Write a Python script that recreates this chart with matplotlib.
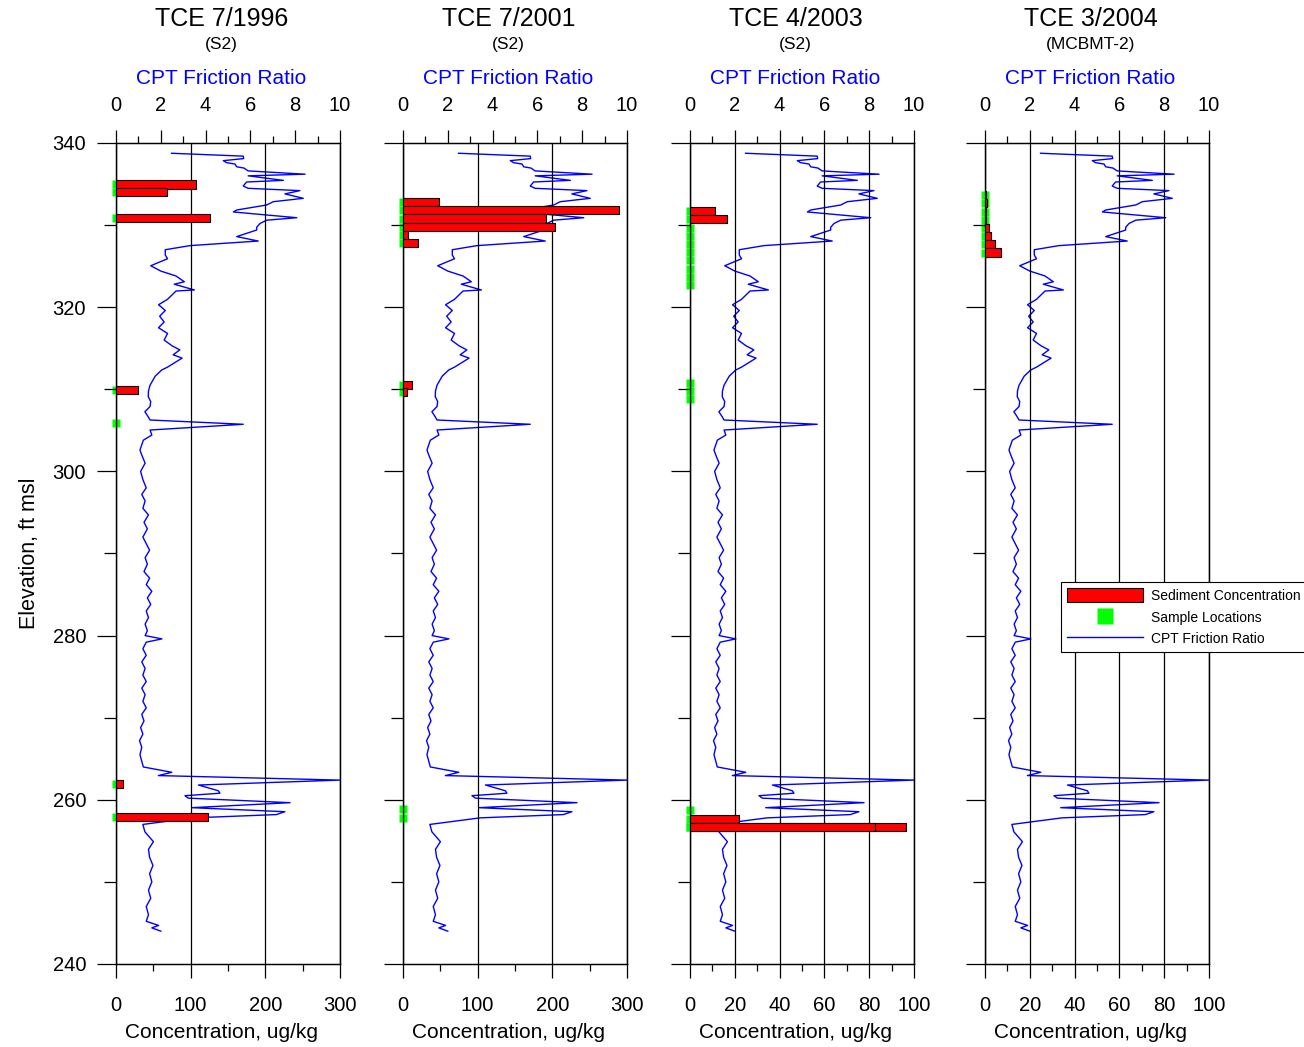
import matplotlib
matplotlib.use('Agg')
import matplotlib.pyplot as plt
from matplotlib.patches import Patch
from matplotlib.lines import Line2D
from matplotlib.ticker import MultipleLocator

plt.rcParams['font.family'] = ['Liberation Sans', 'DejaVu Sans']

# CPT friction ratio profile (same sounding shown in every panel)
cpt_elev = [338.75, 338.4, 338.1, 337.85, 337.6, 337.44, 337.1, 336.95, 336.6, 336.2,
            336.0, 335.45, 335.25, 334.76, 334.48, 334.2, 333.8, 333.26, 332.85, 332.45,
            331.84, 331.6, 330.9, 330.6, 330.2, 329.73, 329.4, 328.6, 328.06, 327.5,
            327.0, 326.36, 325.9, 325.05, 324.4, 323.8, 323.1, 322.8, 322.1, 321.97,
            320.96, 320.3, 319.6, 318.9, 318.2, 317.5, 316.8, 316.0, 315.3, 314.8,
            314.2, 313.8, 313.2, 312.7, 312.35, 311.6, 310.5, 309.8, 309.1, 308.5,
            307.9, 307.27, 306.6, 306.26, 305.74, 305.04, 304.43, 303.8, 302.6, 302.0,
            301.0, 300.0, 299.0, 298.0, 297.2, 296.4, 295.5, 294.7, 293.8, 293.0,
            292.0, 291.2, 290.4, 289.5, 288.7, 287.8, 287.0, 286.2, 285.4, 284.6,
            283.8, 283.0, 282.2, 281.4, 280.6, 280.0, 279.6, 279.2, 278.4, 277.6,
            276.8, 276.0, 275.2, 274.4, 273.6, 272.8, 272.0, 271.2, 270.4, 269.6,
            268.8, 268.0, 267.2, 266.4, 265.5, 264.0, 263.35, 262.95, 262.4, 261.8,
            261.1, 260.8, 260.5, 260.2, 259.65, 259.04, 258.55, 258.2, 257.8, 257.0,
            256.1, 254.9, 253.97, 253.0, 252.0, 251.0, 250.0, 249.0, 248.0, 247.0,
            246.0, 245.2, 244.7, 244.4, 244.0]
cpt_ratio = [2.48, 5.68, 5.7, 4.79, 4.94, 5.31, 5.39, 5.71, 5.9, 8.44,
             5.9, 7.47, 5.83, 5.68, 5.9, 8.21, 7.54, 8.36, 7.02, 6.73,
             5.39, 5.24, 8.07, 6.73, 6.43, 6.28, 6.28, 5.39, 6.35, 3.3,
             2.2, 2.2, 2.3, 1.55, 2.0, 2.68, 3.05, 2.6, 3.5, 2.68,
             2.3, 1.9, 2.2, 1.95, 2.15, 1.9, 2.3, 2.15, 2.5, 2.85,
             2.55, 2.95, 2.6, 2.3, 2.04, 1.75, 1.52, 1.45, 1.44, 1.55,
             1.52, 1.29, 1.45, 1.52, 5.68, 1.52, 1.6, 1.22, 1.07, 1.15,
             1.3, 1.1, 1.2, 1.35, 1.15, 1.3, 1.2, 1.45, 1.25, 1.4,
             1.2, 1.35, 1.5, 1.3, 1.4, 1.25, 1.5, 1.35, 1.6, 1.4,
             1.55, 1.35, 1.45, 1.3, 1.4, 1.3, 2.05, 1.35, 1.2, 1.35,
             1.15, 1.3, 1.2, 1.35, 1.15, 1.3, 1.2, 1.35, 1.15, 1.25,
             1.1, 1.2, 1.05, 1.15, 1.07, 1.22, 2.49, 1.89, 10.0, 3.68,
             4.57, 4.64, 3.08, 3.23, 7.77, 3.38, 7.54, 7.16, 3.44, 1.2,
             1.29, 1.67, 1.45, 1.5, 1.65, 1.5, 1.6, 1.45, 1.55, 1.35,
             1.45, 1.35, 1.9, 1.6, 2.0]

titles = ['TCE 7/1996', 'TCE 7/2001', 'TCE 4/2003', 'TCE 3/2004']
wells = ['(S2)', '(S2)', '(S2)', '(MCBMT-2)']
conc_max = [300, 300, 100, 100]
conc_step = [100, 100, 20, 20]

# sample elevations (ft msl) and TCE concentrations (ug/kg), 0 = no bar
elev_1996 = [334.95, 334.0, 330.9, 309.9, 305.85, 261.9, 257.95]
conc_1996 = [107, 68, 126, 29, 0, 10, 123]

elev_2001 = [332.85, 331.8, 330.8, 329.8, 328.8, 327.8, 310.55, 309.65, 258.85, 257.8]
conc_2001 = [48, 289, 191, 204, 7, 20, 12, 6, 0, 0]

elev_2003 = [331.7, 330.7, 329.7, 328.7, 327.7, 326.7, 325.7, 324.7, 323.7, 322.7,
             310.8, 309.8, 308.8, 258.7, 257.7, 256.7, 256.7]
conc_2003 = [11.2, 16.4, 0, 0, 0, 0, 0, 0, 0, 0,
             0, 0, 0, 0, 21.7, 96.4, 82.7]

elev_2004 = [333.65, 332.65, 331.65, 330.65, 329.65, 328.65, 327.65, 326.65]
conc_2004 = [0.3, 0.8, 0.5, 0.5, 1.6, 2.7, 4.6, 7.1]

sample_elev = [elev_1996, elev_2001, elev_2003, elev_2004]
sample_conc = [conc_1996, conc_2001, conc_2003, conc_2004]

W, H = 1304, 1047
fig = plt.figure(figsize=(W / 100, H / 100), dpi=100)
lefts = [116, 403, 690, 985]

for i in range(4):
    ax = fig.add_axes([lefts[i] / W, 83 / H, 224 / W, 821 / H])
    top = ax.twiny()
    top.plot(cpt_ratio, cpt_elev, color='blue', lw=1.0)
    top.set_xlim(0, 10)
    ax.set_zorder(top.get_zorder() + 1)
    ax.patch.set_visible(False)

    ax.plot([0] * len(sample_elev[i]), sample_elev[i], 's', color='#00ff00',
            ms=5.6, mec='none', zorder=2, clip_on=False)
    ax.barh(sample_elev[i], sample_conc[i], height=1.0, color='red',
            edgecolor='black', lw=0.8, zorder=3)

    ax.set_xlim(0, conc_max[i])
    ax.set_ylim(240, 340)
    ax.xaxis.set_major_locator(MultipleLocator(conc_step[i]))
    ax.xaxis.set_minor_locator(MultipleLocator(conc_step[i] / 2))
    ax.yaxis.set_major_locator(MultipleLocator(20))
    ax.yaxis.set_minor_locator(MultipleLocator(10))
    ax.grid(axis='x', color='black', lw=0.9)
    ax.set_axisbelow(False)

    ax.tick_params(axis='y', which='major', length=13.5, width=0.9, pad=8, labelsize=14.5)
    ax.tick_params(axis='y', which='minor', length=9, width=0.9)
    ax.tick_params(axis='x', which='major', length=10, width=0.9, pad=13, labelsize=14.5)
    ax.tick_params(axis='x', which='minor', length=5, width=0.9)
    if i > 0:
        ax.tick_params(axis='y', labelleft=False)
    else:
        ax.set_ylabel('Elevation, ft msl', fontsize=15.5, labelpad=9)

    top.xaxis.set_major_locator(MultipleLocator(2))
    top.xaxis.set_minor_locator(MultipleLocator(1))
    top.tick_params(axis='x', which='major', length=9.5, width=0.9, pad=11, labelsize=14.5)
    top.tick_params(axis='x', which='minor', length=5, width=0.9)

    ax.set_xlabel('Concentration, ug/kg', fontsize=15, labelpad=6)
    ax.xaxis.label.set_x(0.471)
    top.set_xlabel('CPT Friction Ratio', fontsize=15, color='blue', labelpad=8)
    top.xaxis.label.set_x(0.471)

    for a in (ax, top):
        for s in a.spines.values():
            s.set_linewidth(0.9)

    xc = (lefts[i] + 112 - 6.5) / W
    fig.text(xc, 1 - 19 / H, titles[i], ha='center', va='center', fontsize=18)
    fig.text(xc, 1 - 45 / H, wells[i], ha='center', va='center', fontsize=12.5)

handles = [Patch(facecolor='red', edgecolor='black', lw=0.8),
           Line2D([], [], ls='none', marker='s', color='#00ff00', mec='none', ms=12),
           Line2D([], [], color='blue', lw=1.0)]
labels = ['Sediment Concentration', 'Sample Locations', 'CPT Friction Ratio']
leg = fig.legend(handles, labels, loc='upper left', bbox_to_anchor=(1061 / W, 1 - 582 / H),
                 fontsize=10, handlelength=5.5, handleheight=1.25, handletextpad=0.6,
                 labelspacing=0.5, borderpad=0.4, borderaxespad=0, fancybox=False,
                 framealpha=1, edgecolor='black')
leg.get_frame().set_linewidth(0.8)

fig.savefig('out.png', dpi=100)
